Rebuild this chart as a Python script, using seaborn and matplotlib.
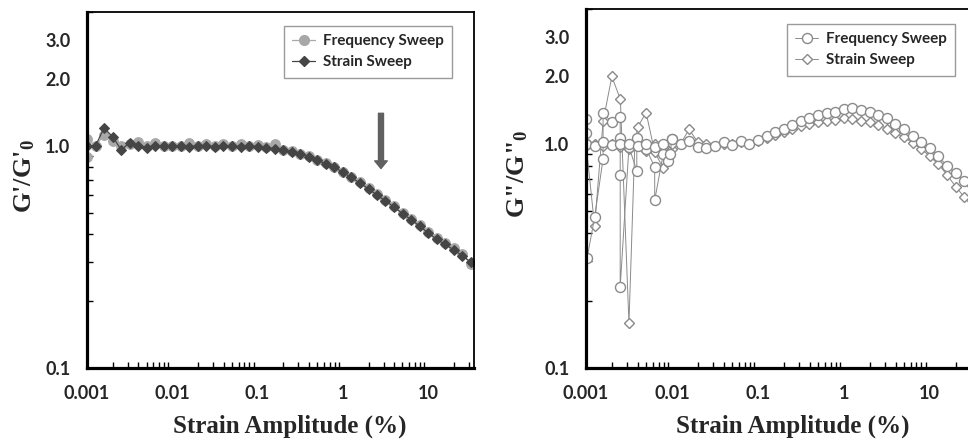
import numpy as np
import pandas as pd
import matplotlib
matplotlib.use("Agg")
import matplotlib.pyplot as plt
from matplotlib.lines import Line2D
from matplotlib.ticker import FixedLocator, FixedFormatter, NullFormatter
import seaborn as sns

sns.set_style("white")
plt.rcParams["font.family"] = ["Lato", "DejaVu Sans"]
plt.rcParams["mathtext.fontset"] = "custom"
plt.rcParams["mathtext.rm"] = "Liberation Serif:bold"
plt.rcParams["mathtext.bf"] = "Liberation Serif:bold"
plt.rcParams["mathtext.it"] = "Liberation Serif:bold"

# ---------------- data ----------------
strain_grid = [0.001, 0.00126, 0.00158, 0.002, 0.00251, 0.00316, 0.00398, 0.00501, 0.00631, 0.00794,
               0.01, 0.0126, 0.0158, 0.02, 0.0251, 0.0316, 0.0398, 0.0501, 0.0631, 0.0794,
               0.1, 0.126, 0.158, 0.2, 0.251, 0.316, 0.398, 0.501, 0.631, 0.794,
               1.0, 1.26, 1.58, 2.0, 2.51, 3.16, 3.98, 5.01, 6.31, 7.94,
               10.0, 12.6, 15.8, 20.0, 25.1, 31.6]

# Left panel: G'/G'0
left_strain_y = [1.0, 1.0, 1.2, 1.1, 0.96, 1.03, 1.0, 0.98, 1.0, 1.0,
                 1.0, 1.0, 0.99, 1.0, 1.0, 0.99, 1.0, 1.0, 0.99, 1.0,
                 0.99, 0.98, 0.97, 0.96, 0.94, 0.92, 0.89, 0.86, 0.83, 0.80,
                 0.76, 0.72, 0.68, 0.64, 0.60, 0.565, 0.53, 0.495, 0.465, 0.435,
                 0.405, 0.38, 0.36, 0.34, 0.32, 0.30]
left_freq_x = [0.001, 0.001] + strain_grid[1:]
left_freq_y = [0.89, 1.07, 1.0, 1.12, 1.05, 1.0, 1.02, 1.04, 1.0, 1.03, 1.0,
               1.0, 1.0, 1.03, 1.0, 1.02, 1.0, 1.02, 1.0, 1.02, 1.0,
               1.01, 0.99, 1.02, 0.96, 0.945, 0.92, 0.895, 0.865, 0.835, 0.80,
               0.765, 0.725, 0.685, 0.645, 0.605, 0.57, 0.535, 0.50, 0.47, 0.44,
               0.41, 0.385, 0.365, 0.345, 0.325, 0.295]

# Right panel: G''/G''0
right_strain_noisy_x = [0.001, 0.00126, 0.00158, 0.002, 0.00251, 0.00316, 0.0037, 0.004, 0.005,
                        0.0063, 0.0079, 0.0089, 0.01]
right_strain_noisy_y = [1.0, 0.43, 1.26, 2.0, 1.58, 0.158, 1.0, 1.19, 1.38,
                        0.92, 0.78, 0.86, 0.95]
right_strain_x = strain_grid
right_strain_y = [0.98, 1.0, 0.98, 1.0, 0.97, 0.95, 0.98, 0.93, 1.0, 0.98,
                  1.0, 1.0, 1.16, 1.02, 1.0, 0.98, 1.0, 1.0, 1.02, 1.0,
                  1.03, 1.06, 1.1, 1.13, 1.17, 1.2, 1.23, 1.25, 1.27, 1.28,
                  1.3, 1.29, 1.27, 1.25, 1.22, 1.17, 1.12, 1.07, 1.01, 0.95,
                  0.88, 0.81, 0.73, 0.645, 0.58, 0.52]
right_freq_noisy_x = [0.001, 0.001, 0.001, 0.00103, 0.00126, 0.00158, 0.00158, 0.002, 0.0025,
                      0.0025, 0.0025, 0.0025, 0.00316, 0.0039, 0.0039, 0.005, 0.0063, 0.0063,
                      0.0079, 0.0089, 0.0095, 0.01]
right_freq_noisy_y = [1.29, 1.12, 1.0, 0.31, 0.47, 0.86, 1.37, 1.25, 1.32,
                      1.06, 0.73, 0.23, 0.97, 0.76, 1.06, 0.95, 0.79, 0.56,
                      0.9, 0.84, 0.9, 1.05]
right_freq_x = strain_grid
right_freq_y = [1.0, 0.98, 1.02, 0.99, 1.0, 1.0, 0.98, 1.0, 0.97, 1.0,
                1.05, 1.0, 1.03, 0.97, 0.96, 0.98, 1.02, 0.99, 1.03, 1.0,
                1.04, 1.08, 1.13, 1.17, 1.22, 1.26, 1.3, 1.34, 1.37, 1.39,
                1.43, 1.44, 1.42, 1.39, 1.35, 1.3, 1.23, 1.16, 1.09, 1.02,
                0.96, 0.88, 0.8, 0.74, 0.68, 0.6]

x_ticks = [0.001, 0.01, 0.1, 1, 10]
x_tick_labels = ["0.001", "0.01", "0.1", "1", "10"]
y_ticks = [0.1, 1.0, 2.0, 3.0]
y_tick_labels = ["0.1", "1.0", "2.0", "3.0"]
legend_labels = ["Frequency Sweep", "Strain Sweep"]

# ---------------- figure ----------------
fig = plt.figure(figsize=(9.68, 4.44), dpi=100)
axL = fig.add_axes([87 / 968, 76 / 444, 387 / 968, 356 / 444])
axR = fig.add_axes([586 / 968, 76 / 444, 390 / 968, 359 / 444])

for ax in (axL, axR):
    ax.set_xscale("log")
    ax.set_yscale("log")

LIGHT = "#a8a8a8"
DARK = "#454545"
OPEN = "#8a8a8a"

# left panel
dfLf = pd.DataFrame({"x": left_freq_x, "y": left_freq_y})
dfLs = pd.DataFrame({"x": strain_grid, "y": left_strain_y})
sns.lineplot(data=dfLf, x="x", y="y", estimator=None, sort=False, ax=axL, color=LIGHT,
             marker="o", markersize=7.0, markeredgecolor=LIGHT, markerfacecolor=LIGHT,
             linewidth=0.9, legend=False)
sns.lineplot(data=dfLs, x="x", y="y", estimator=None, sort=False, ax=axL, color=DARK,
             marker="D", markersize=5.2, markeredgecolor=DARK, markerfacecolor=DARK,
             linewidth=0.9, legend=False)

# right panel
dfRf = pd.DataFrame({"x": right_freq_noisy_x + right_freq_x,
                     "y": right_freq_noisy_y + right_freq_y,
                     "run": ["a"] * len(right_freq_noisy_x) + ["b"] * len(right_freq_x)})
dfRs = pd.DataFrame({"x": right_strain_noisy_x + right_strain_x,
                     "y": right_strain_noisy_y + right_strain_y,
                     "run": ["a"] * len(right_strain_noisy_x) + ["b"] * len(right_strain_x)})
sns.lineplot(data=dfRs, x="x", y="y", units="run", estimator=None, sort=False, ax=axR,
             color=OPEN, marker="D", markersize=5.4, markerfacecolor="white",
             markeredgecolor=OPEN, markeredgewidth=1.0, linewidth=0.7, legend=False)
sns.lineplot(data=dfRf, x="x", y="y", units="run", estimator=None, sort=False, ax=axR,
             color=OPEN, marker="o", markersize=7.2, markerfacecolor="white",
             markeredgecolor=OPEN, markeredgewidth=1.0, linewidth=0.7, legend=False)

# arrow on left panel
axL.annotate("", xy=(2.8, 0.79), xytext=(2.8, 1.40),
             arrowprops=dict(width=3.6, headwidth=9, headlength=5.5,
                             color="#606060", shrink=0))

for ax in (axL, axR):
    ax.set_xlim(0.001, 34.5)
    ax.set_ylim(0.1, 4.0)
    ax.xaxis.set_major_locator(FixedLocator(x_ticks))
    ax.xaxis.set_major_formatter(FixedFormatter(x_tick_labels))
    ax.yaxis.set_major_locator(FixedLocator(y_ticks))
    ax.yaxis.set_major_formatter(FixedFormatter(y_tick_labels))
    ax.xaxis.set_minor_formatter(NullFormatter())
    ax.yaxis.set_minor_formatter(NullFormatter())
    ax.tick_params(which="major", direction="inout", length=8, width=1.3,
                   labelsize=13, color="black")
    ax.tick_params(which="minor", direction="in", length=4, width=1.0, color="black")
    ax.tick_params(axis="x", which="major", pad=8)
    ax.tick_params(axis="y", which="major", pad=8)
    ax.tick_params(axis="y", which="minor", left=True)
    ax.tick_params(axis="x", which="minor", bottom=True)
    for lab in ax.get_xticklabels() + ax.get_yticklabels():
        lab.set_fontweight("bold")
    for s in ("left", "bottom"):
        ax.spines[s].set_linewidth(2.3)
        ax.spines[s].set_color("black")
    for s in ("top", "right"):
        ax.spines[s].set_linewidth(1.3)
        ax.spines[s].set_color("black")
    ax.set_xlabel("Strain Amplitude (%)", fontsize=18, fontweight="bold",
                  family="Liberation Serif")

axL.set_ylabel("G'/G'$_0$", fontsize=19, fontweight="bold", family="Liberation Serif")
axR.set_ylabel('G"/G"$_0$', fontsize=19, fontweight="bold", family="Liberation Serif")
axL.xaxis.set_label_coords(0.525, -0.132)
axR.xaxis.set_label_coords(0.53, -0.130)
axL.yaxis.set_label_coords(-0.16, 0.54)
axR.yaxis.set_label_coords(-0.175, 0.54)
axL.yaxis.label.set_va("center")
axR.yaxis.label.set_va("center")

# legends
hL = [Line2D([], [], color=LIGHT, marker="o", markersize=7.0, markerfacecolor=LIGHT,
             markeredgecolor=LIGHT, linewidth=0.9),
      Line2D([], [], color=DARK, marker="D", markersize=5.2, markerfacecolor=DARK,
             markeredgecolor=DARK, linewidth=0.9)]
hR = [Line2D([], [], color=OPEN, marker="o", markersize=7.2, markerfacecolor="white",
             markeredgecolor=OPEN, linewidth=0.7),
      Line2D([], [], color=OPEN, marker="D", markersize=5.4, markerfacecolor="white",
             markeredgecolor=OPEN, linewidth=0.7)]
for ax, h, anchor in ((axL, hL, (0.943, 0.961)), (axR, hR, (0.946, 0.958))):
    leg = ax.legend(h, legend_labels, loc="upper right", bbox_to_anchor=anchor,
                    borderaxespad=0, fancybox=False, framealpha=1, edgecolor="#9a9a9a",
                    handlelength=1.5, handletextpad=0.5, labelspacing=0.45,
                    borderpad=0.55, prop={"family": "Lato", "weight": "bold", "size": 11})
    leg.get_frame().set_linewidth(1.0)

fig.savefig("out.png", dpi=100)
